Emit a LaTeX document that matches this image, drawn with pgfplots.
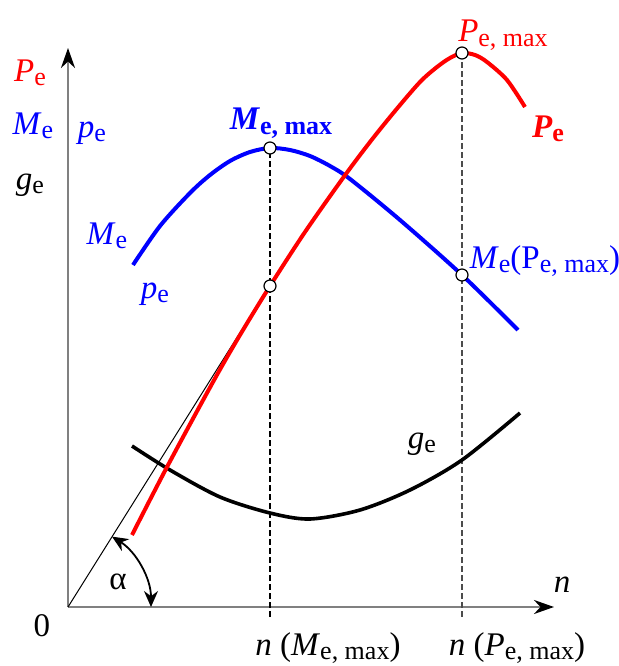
\documentclass[border=0pt]{standalone}
\usepackage{pgfplots}
\pgfplotsset{compat=1.18}
\usepackage{fontspec}
\setmainfont{Liberation Serif}
\usetikzlibrary{arrows.meta}

% larger, lowered subscript as in the reference
\newcommand{\sub}[1]{\raisebox{-2.3pt}{\fontsize{13}{13}\selectfont #1}}

\begin{document}
\begin{tikzpicture}[font=\fontsize{16.5}{19}\selectfont]
\begin{axis}[
    x=0.5pt, y=0.5pt,
    xmin=-68, xmax=550, ymin=-59, ymax=607,
    hide axis, clip=false,
]
\coordinate (bl) at (axis cs:-68,-59);
\coordinate (tr) at (axis cs:550,607);

% axes
\draw[gray, line width=1.3pt, -{Stealth[length=10pt,width=7pt,black]}] (axis cs:0,0) -- (axis cs:0,559);
\draw[gray, line width=1.3pt, -{Stealth[length=10pt,width=7pt,black]}] (axis cs:0,0) -- (axis cs:486,0);

% dashed guides
\draw[black, line width=0.6pt, dash pattern=on 3pt off 1.5pt] (axis cs:202,-10) -- (axis cs:202,459);
\draw[black!70, line width=0.6pt, dash pattern=on 3pt off 1.5pt] (axis cs:394,-10) -- (axis cs:394,554);

% tangent from origin
\addplot[black, line width=0.5pt] coordinates {(0,0) (205,327)};

% angle alpha
\draw[black, line width=0.9pt, {Stealth[length=8pt,width=7pt]}-{Stealth[length=8pt,width=7pt]}]
    (axis cs:0,0) ++(58:41.5pt) arc[start angle=58, end angle=0, radius=41.5pt];

% g_e
\addplot[black, line width=1.8pt, smooth] coordinates {
    (64,161) (102,137) (152,110) (202,94) (242,88) (292,97) (342,117) (394,147) (452,194)
};
% M_e
\addplot[blue, line width=2pt, smooth] coordinates {
    (65,342) (92,381) (122,414) (142,432) (162,446) (182,455) (202,459) (222,457) (242,451)
    (262,441) (282,428) (332,387) (394,332) (450,277)
};
% P_e
\addplot[red, line width=2pt, smooth] coordinates {
    (64,72) (99,140) (145,225) (172,272) (202,321) (237,375) (275,429) (302,465)
    (327,496) (352,525) (369,540) (382,549) (394,554) (407,552) (419,545) (439,527) (457,500)
};

% marked points
\addplot[only marks, mark=*, mark size=3pt, mark options={fill=white, draw=black, line width=0.6pt}]
    coordinates {(202,459) (202,321) (394,554) (394,332)};

% labels
\node[red] at (axis cs:-38,534) {\textit{P}\sub{e}};
\node[blue] at (axis cs:-35,481) {\textit{M}\sub{e}};
\node[blue] at (axis cs:24,474) {\textit{p}\sub{e}};
\node[black] at (axis cs:-38,422) {\textit{g}\sub{e}};
\node[blue] at (axis cs:39,371) {\textit{M}\sub{e}};
\node[blue] at (axis cs:87,313) {\textit{p}\sub{e}};
\node[blue] at (axis cs:213,484) {\textbf{\textit{M}\sub{e, max}}};
\node[red] at (axis cs:435,572) {\textit{P}\sub{e, max}};
\node[red] at (axis cs:480,478) {\textbf{\textit{P}\sub{e}}};
\node[blue] at (axis cs:477,346) {\textit{M}\sub{e}(P\sub{e, max})};
\node[black] at (axis cs:354,163) {\textit{g}\sub{e}};
\node[black] at (axis cs:-26,-19) {0};
\node[black] at (axis cs:50,25) {α};
\node[black] at (axis cs:494,22) {\textit{n}};
\node[black] at (axis cs:260,-41) {\textit{n} (\textit{M}\sub{e, max})};
\node[black] at (axis cs:449,-41) {\textit{n} (\textit{P}\sub{e, max})};
\end{axis}
\pgfresetboundingbox
\path (bl) rectangle (tr);
\end{tikzpicture}
\end{document}
